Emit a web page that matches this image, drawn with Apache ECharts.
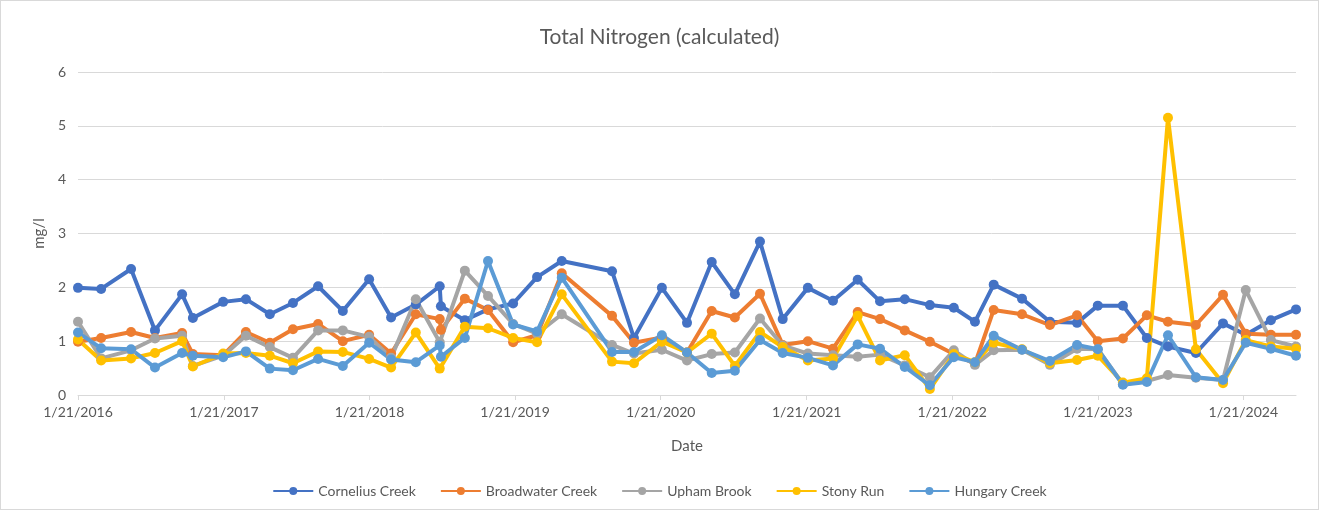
<!DOCTYPE html>
<html lang="en">

<head>
    <meta charset="UTF-8">
    <title>Total Nitrogen (calculated)</title>
    <script src="https://cdn.jsdelivr.net/npm/echarts@6/dist/echarts.min.js"></script>
    <style>
        body { margin: 0; background: #fff; }
        #main { width: 1317px; height: 508px; border: 1px solid #d9d9d9; }
    </style>
</head>

<body>
    <div id="main"></div>

    <script type="text/javascript">
        // sample dates (one row per sampling)
        const dates = [
            '2016-01-21', '2016-03-19', '2016-06-02', '2016-08-01', '2016-10-08', '2016-11-04',
            '2017-01-19', '2017-03-17', '2017-05-16', '2017-07-13', '2017-09-14', '2017-11-15',
            '2018-01-20', '2018-03-16', '2018-05-17', '2018-07-16', '2018-07-19', '2018-09-17',
            '2018-11-14', '2019-01-16', '2019-03-17', '2019-05-18', '2019-09-21', '2019-11-15',
            '2020-01-24', '2020-03-27', '2020-05-28', '2020-07-25', '2020-09-26', '2020-11-22',
            '2021-01-24', '2021-03-28', '2021-05-29', '2021-07-24', '2021-09-24', '2021-11-26',
            '2022-01-25', '2022-03-19', '2022-05-05', '2022-07-15', '2022-09-23', '2022-11-30',
            '2023-01-21', '2023-03-25', '2023-05-24', '2023-07-16', '2023-09-24', '2023-12-01',
            '2024-01-27', '2024-03-30', '2024-06-01'
        ];

        const cornelius = [1.99, 1.97, 2.34, 1.20, 1.87, 1.43, 1.73, 1.78, 1.50, 1.71, 2.02, 1.56,
            2.15, 1.44, 1.68, 2.02, 1.65, 1.39, 1.59, 1.70, 2.19, 2.49, 2.30, 1.06,
            1.99, 1.34, 2.47, 1.87, 2.85, 1.41, 1.99, 1.75, 2.14, 1.74, 1.78, 1.67,
            1.62, 1.36, 2.05, 1.79, 1.36, 1.34, 1.66, 1.66, 1.06, 0.90, 0.78, 1.33,
            1.12, 1.39, 1.59];
        const broadwater = [0.99, 1.06, 1.17, 1.06, 1.15, 0.76, 0.74, 1.17, 0.97, 1.22, 1.32, 1.00,
            1.12, 0.77, 1.50, 1.41, 1.21, 1.79, 1.58, 0.98, 1.11, 2.26, 1.47, 0.97,
            1.07, 0.79, 1.56, 1.44, 1.88, 0.93, 1.00, 0.86, 1.54, 1.41, 1.20, 0.99,
            0.76, 0.58, 1.58, 1.50, 1.30, 1.48, 1.00, 1.05, 1.48, 1.36, 1.30, 1.86,
            1.14, 1.12, 1.12];
        const upham = [1.36, 0.68, 0.83, 1.05, 1.10, 0.54, 0.73, 1.10, 0.89, 0.69, 1.20, 1.20,
            1.08, 0.69, 1.78, 0.98, null, 2.31, 1.84, 1.32, 1.14, 1.50, 0.93, 0.77,
            0.84, 0.64, 0.76, 0.79, 1.42, 0.92, 0.77, 0.74, 0.71, 0.75, 0.55, 0.33,
            0.83, 0.56, 0.83, 0.84, 0.56, 0.86, 0.85, 0.20, 0.26, 0.37, 0.32, 0.28,
            1.95, 1.02, 0.90];
        const stony = [1.03, 0.64, 0.68, 0.78, 1.00, 0.53, 0.77, 0.78, 0.73, 0.59, 0.81, 0.80,
            0.67, 0.51, 1.16, 0.49, null, 1.27, 1.24, 1.06, 0.98, 1.87, 0.62, 0.59,
            0.99, 0.79, 1.14, 0.54, 1.17, 0.89, 0.64, 0.68, 1.47, 0.64, 0.74, 0.11,
            0.76, 0.61, 0.97, 0.85, 0.59, 0.65, 0.73, 0.23, 0.31, 5.15, 0.85, 0.22,
            1.02, 0.90, 0.86];
        const hungary = [1.16, 0.87, 0.85, 0.51, 0.78, 0.73, 0.70, 0.81, 0.49, 0.46, 0.67, 0.54,
            0.97, 0.66, 0.61, 0.92, 0.71, 1.06, 2.49, 1.31, 1.18, 2.18, 0.80, 0.80,
            1.11, 0.79, 0.41, 0.45, 1.02, 0.78, 0.69, 0.55, 0.94, 0.86, 0.52, 0.18,
            0.70, 0.61, 1.10, 0.84, 0.63, 0.93, 0.85, 0.19, 0.24, 1.11, 0.33, 0.28,
            0.97, 0.86, 0.73];

        const seriesNames = ['Cornelius Creek', 'Broadwater Creek', 'Upham Brook', 'Stony Run', 'Hungary Creek'];
        const colors = ['#4472C4', '#ED7D31', '#A5A5A5', '#FFC000', '#5B9BD5'];
        const tickYears = [2016, 2017, 2018, 2019, 2020, 2021, 2022, 2023, 2024];

        const tickVals = tickYears.map(y => Date.UTC(y, 0, 21));
        const xMin = Date.parse(dates[0]);
        const xMax = Date.parse(dates[dates.length - 1]);

        function fmtDate(v) {
            const d = new Date(v);
            return (d.getUTCMonth() + 1) + '/' + d.getUTCDate() + '/' + d.getUTCFullYear();
        }

        const allValues = [cornelius, broadwater, upham, stony, hungary];
        const txt = '#595959';
        const font = 'Lato, "Open Sans", sans-serif';

        var myChart = echarts.init(document.getElementById('main'));

        const option = {
            animation: false,
            textStyle: { fontFamily: font },
            title: {
                text: 'Total Nitrogen (calculated)',
                left: 'center',
                top: 21,
                textStyle: { color: txt, fontSize: 21, fontWeight: 'normal', fontFamily: font }
            },
            legend: {
                data: seriesNames,
                left: 'center',
                top: 478,
                itemWidth: 40,
                itemHeight: 10,
                itemGap: 24,
                textStyle: { color: txt, fontSize: 14, fontFamily: font }
            },
            grid: { left: 77, right: 22, top: 71, bottom: 114 },
            xAxis: {
                type: 'value',
                min: xMin,
                max: xMax,
                name: 'Date',
                nameLocation: 'middle',
                nameGap: 44,
                nameTextStyle: { color: txt, fontSize: 15, fontFamily: font },
                axisLine: { lineStyle: { color: '#d9d9d9', width: 1 } },
                axisTick: { show: true, customValues: tickVals, length: 5, lineStyle: { color: '#d9d9d9' } },
                axisLabel: {
                    customValues: tickVals,
                    formatter: fmtDate,
                    color: txt,
                    fontSize: 14,
                    margin: 10,
                    hideOverlap: false,
                    showMinLabel: true,
                    showMaxLabel: true
                },
                splitLine: { show: false }
            },
            yAxis: {
                type: 'value',
                min: 0,
                max: 6,
                interval: 1,
                name: 'mg/l',
                nameLocation: 'middle',
                nameRotate: 90,
                nameGap: 27,
                nameTextStyle: { color: txt, fontSize: 15, fontFamily: font },
                axisLine: { show: false },
                axisTick: { show: false },
                axisLabel: { color: txt, fontSize: 14, margin: 12 },
                splitLine: { lineStyle: { color: '#d9d9d9', width: 1 } }
            },
            series: seriesNames.map((name, k) => ({
                name: name,
                type: 'line',
                connectNulls: true,
                symbol: 'circle',
                symbolSize: 10,
                color: colors[k],
                lineStyle: { width: 4, color: colors[k] },
                itemStyle: { color: colors[k] },
                data: dates.map((d, i) => [Date.parse(d), allValues[k][i]])
            }))
        };

        myChart.setOption(option);
    </script>
</body>

</html>
